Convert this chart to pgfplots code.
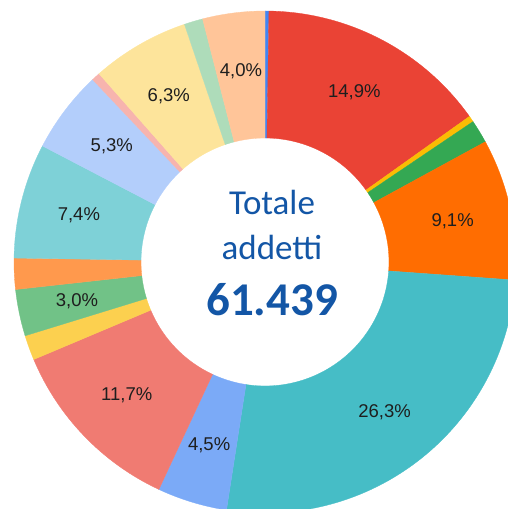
\documentclass[border=0pt]{standalone}
\usepackage{pgfplots}
\pgfplotsset{compat=1.18}
\usepackage{fontspec}
\setmainfont{Liberation Sans}
\newfontfamily\calibri{Carlito}
\definecolor{c01}{HTML}{4285F4}
\definecolor{c02}{HTML}{EA4335}
\definecolor{c03}{HTML}{FBBC04}
\definecolor{c04}{HTML}{34A853}
\definecolor{c05}{HTML}{FF6D01}
\definecolor{c06}{HTML}{46BDC6}
\definecolor{c07}{HTML}{7BAAF7}
\definecolor{c08}{HTML}{F07B72}
\definecolor{c09}{HTML}{FCD04F}
\definecolor{c10}{HTML}{71C287}
\definecolor{c11}{HTML}{FF994D}
\definecolor{c12}{HTML}{7ED1D7}
\definecolor{c13}{HTML}{B3CEFB}
\definecolor{c14}{HTML}{F7B4AE}
\definecolor{c15}{HTML}{FDE49B}
\definecolor{c16}{HTML}{AEDCBA}
\definecolor{c17}{HTML}{FFC599}
\definecolor{lab}{HTML}{1E1E1E}
\definecolor{tb}{HTML}{1356A6}
\newcommand\lblfont{\fontsize{18.5}{21}\selectfont}
\begin{document}
\begin{tikzpicture}
\useasboundingbox (0,0) rectangle (508pt,509pt);
\begin{axis}[at={(0,0)}, anchor=south west, x=1pt, y=1pt,
  xmin=0, xmax=508, ymin=0, ymax=509, hide axis, clip=true]
\def\cx{265}\def\cy{247}
\gdef\cum{0}
\foreach \val/\col/\lab in {
  0.25/c01/{}, 14.9/c02/{14,9\%}, 0.4/c03/{}, 1.5/c04/{}, 9.1/c05/{9,1\%},
  26.3/c06/{26,3\%}, 4.5/c07/{4,5\%}, 11.7/c08/{11,7\%}, 1.6/c09/{},
  3.0/c10/{3,0\%}, 2.0/c11/{}, 7.4/c12/{7,4\%}, 5.3/c13/{5,3\%},
  0.55/c14/{}, 6.3/c15/{6,3\%}, 1.2/c16/{}, 4.0/c17/{4,0\%}}{
  \pgfmathsetmacro\a{90-\cum*3.6}
  \pgfmathsetmacro\b{90-(\cum+\val)*3.6}
  \pgfmathsetmacro\m{(\a+\b)/2}
  \edef\temp{\noexpand\fill[\col, draw=\col, line width=0.3pt]
    ([shift={(\a:251pt)}]axis cs:\cx,\cy) arc[start angle=\a, end angle=\b, radius=251pt]
    -- ([shift={(\b:124pt)}]axis cs:\cx,\cy) arc[start angle=\b, end angle=\a, radius=124pt] -- cycle;
    \noexpand\node[font=\noexpand\lblfont, text=lab] at ([shift={(\m:192pt)}]axis cs:\cx,\cy) {\lab};}
  \temp
  \pgfmathsetmacro\n{\cum+\val}
  \global\let\cum\n
}
\node[font=\calibri\fontsize{35}{40}\selectfont, text=tb, anchor=base] at (axis cs:272,294) {Totale};
\node[font=\calibri\fontsize{35}{40}\selectfont, text=tb, anchor=base] at (axis cs:272,249) {addetti};
\node[font=\calibri\bfseries\fontsize{47}{50}\selectfont, text=tb, anchor=base] at (axis cs:272,193) {61.439};
\end{axis}
\end{tikzpicture}
\end{document}
